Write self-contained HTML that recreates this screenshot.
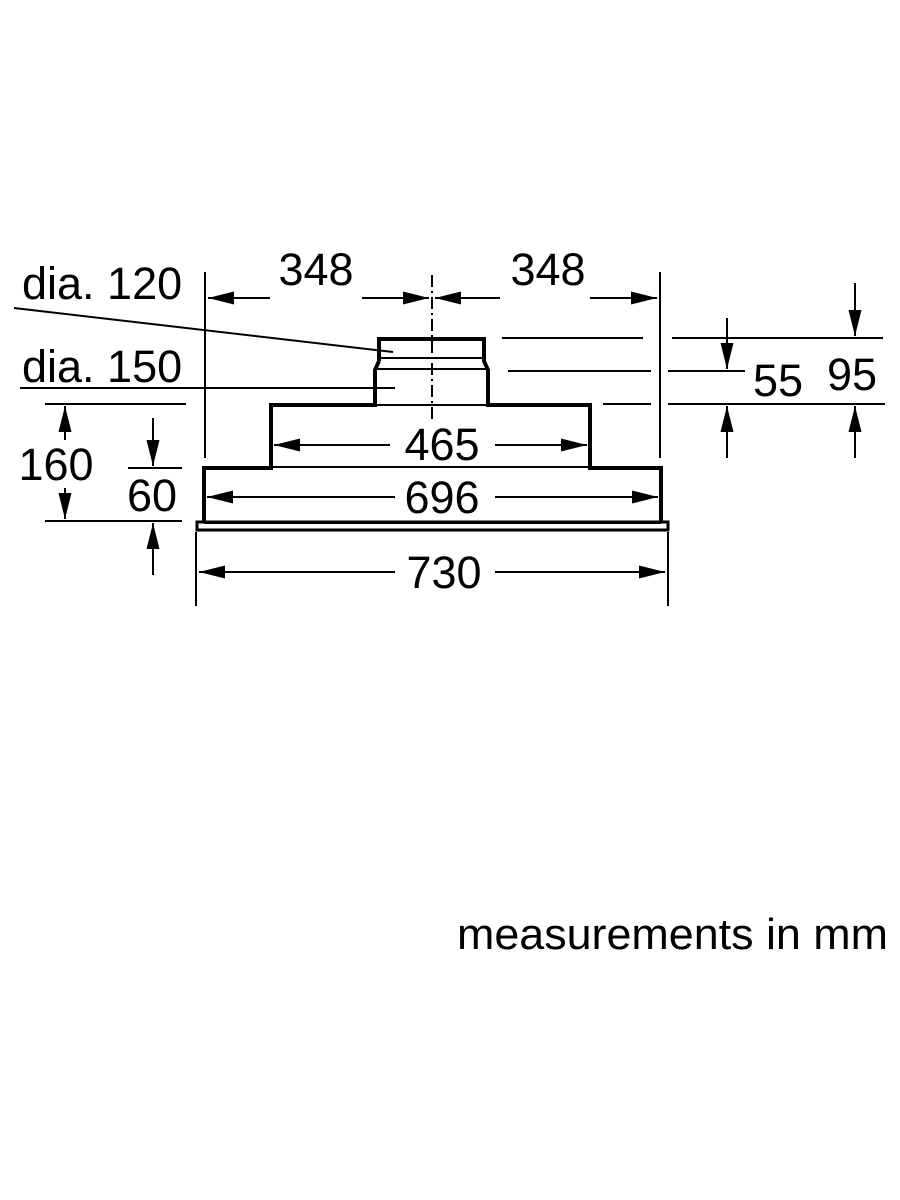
<!DOCTYPE html>
<html><head><meta charset="utf-8"><style>body{margin:0;background:#fff}svg{display:block}</style></head><body>
<svg width="900" height="1200" viewBox="0 0 900 1200" xmlns="http://www.w3.org/2000/svg">
<defs>
<marker id="b" viewBox="0 0 20 10" refX="20" refY="5" markerWidth="26" markerHeight="13" orient="auto" markerUnits="userSpaceOnUse"><path d="M0,0L20,5L0,10z" fill="#000"/></marker></defs>
<g fill="none" stroke="#000">
<path d="M379,361 L379,339 L484,339 L484,361 L488,370 L488,405 L590,405 L590,468 L661,468 L661,522" stroke-width="4"/>
<path d="M379,361 L375,370 L375,405 L271,405 L271,468 L204,468 L204,522" stroke-width="4"/>
<rect x="197" y="522" width="471" height="8" stroke-width="3"/>
<g stroke-width="2">
<line x1="379" y1="358" x2="484" y2="358"/><line x1="375" y1="369" x2="488" y2="369"/>
<line x1="375" y1="405" x2="488" y2="405"/><line x1="271" y1="467" x2="590" y2="467"/>
<line x1="204" y1="523" x2="661" y2="523"/>
<line x1="432" y1="275" x2="432" y2="422" stroke-dasharray="12,4,2,4"/>
<line x1="205" y1="272" x2="205" y2="458"/><line x1="660" y1="272" x2="660" y2="458"/>
<line x1="196" y1="532" x2="196" y2="606"/><line x1="668" y1="532" x2="668" y2="606"/>
<line x1="14" y1="308" x2="393" y2="352"/><line x1="20" y1="388" x2="395" y2="388"/>
<line x1="45" y1="404" x2="186" y2="404"/><line x1="45" y1="521" x2="182" y2="521"/>
<line x1="128" y1="468" x2="182" y2="468"/>
<line x1="502" y1="338" x2="643" y2="338"/><line x1="672" y1="338" x2="883" y2="338"/>
<line x1="508" y1="371" x2="651" y2="371"/><line x1="668" y1="371" x2="745" y2="371"/>
<line x1="603" y1="404" x2="651" y2="404"/><line x1="668" y1="404" x2="885" y2="404"/>
</g>
<g stroke-width="2" marker-end="url(#b)">
<line x1="270" y1="298" x2="208" y2="298"/><line x1="362" y1="298" x2="429" y2="298"/>
<line x1="500" y1="298" x2="435" y2="298"/><line x1="590" y1="298" x2="657" y2="298"/>
<line x1="390" y1="445" x2="274" y2="445"/><line x1="495" y1="445" x2="587" y2="445"/>
<line x1="395" y1="497" x2="207" y2="497"/><line x1="495" y1="497" x2="658" y2="497"/>
<line x1="395" y1="572" x2="199" y2="572"/><line x1="495" y1="572" x2="665" y2="572"/>
<line x1="65" y1="440" x2="65" y2="406"/><line x1="65" y1="488" x2="65" y2="519"/>
<line x1="153" y1="418" x2="153" y2="466"/><line x1="153" y1="575" x2="153" y2="523"/>
<line x1="727" y1="318" x2="727" y2="369"/><line x1="727" y1="458" x2="727" y2="406"/>
<line x1="855" y1="283" x2="855" y2="336"/><line x1="855" y1="458" x2="855" y2="406"/>
</g>
</g>
<g font-family="Liberation Sans, sans-serif" font-size="45" fill="#000">
<text x="22" y="299">dia. 120</text>
<text x="22" y="382">dia. 150</text>
<text x="316" y="285" text-anchor="middle">348</text>
<text x="548" y="285" text-anchor="middle">348</text>
<text x="442" y="460" text-anchor="middle">465</text>
<text x="442" y="513" text-anchor="middle">696</text>
<text x="444" y="588" text-anchor="middle">730</text>
<text x="56" y="480" text-anchor="middle">160</text>
<text x="152" y="511" text-anchor="middle">60</text>
<text x="778" y="396" text-anchor="middle">55</text>
<text x="852" y="390" text-anchor="middle">95</text>
<text x="457" y="949" font-size="44" textLength="431" lengthAdjust="spacingAndGlyphs">measurements in mm</text>
</g>
</svg>
</body></html>
